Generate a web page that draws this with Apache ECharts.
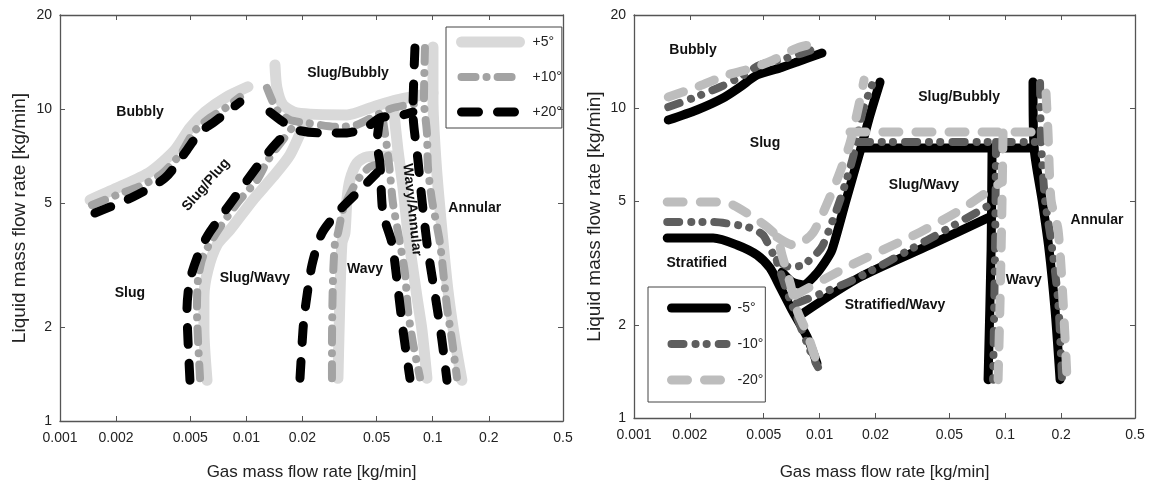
<!DOCTYPE html>
<html><head><meta charset="utf-8">
<script src="https://cdn.jsdelivr.net/npm/echarts@6/dist/echarts.min.js"></script>
<style>html,body{margin:0;padding:0;background:#fff}#c{width:1152px;height:485px}</style>
</head><body><div id="c"></div>
<script>
// ---------- axis ticks & titles ----------
const xTickValues = [0.001, 0.002, 0.005, 0.01, 0.02, 0.05, 0.1, 0.2, 0.5];
const yTickValues = [1, 2, 5, 10, 20];
const xTitle = 'Gas mass flow rate [kg/min]';
const yTitle = 'Liquid mass flow rate [kg/min]';

// ---------- left panel: +5°, +10°, +20° ----------
const p5Bubbly = [[0.00145,5.11],[0.00202,5.58],[0.00304,6.28],[0.00414,7.39],[0.00498,8.69],[0.006,9.78],[0.00768,10.85],[0.0102,11.77]];
const p5SlugBubbly = [[0.01424,13.84],[0.01459,11.68],[0.01572,10.3],[0.01868,9.71],[0.03464,9.57],[0.04778,10.15],[0.06427,10.69],[0.1003,11.25]];
const p5SlugPlug = [[0.00615,1.35],[0.00592,1.96],[0.00592,2.5],[0.00622,3.05],[0.00696,3.67],[0.00817,4.1],[0.01085,5.11],[0.01389,6.06],[0.01713,7.12],[0.02063,9.09]];
const p5Wavy = [[0.031,1.37],[0.03178,2.5],[0.03258,3.72],[0.0338,4.0],[0.03464,5.11],[0.03596,5.92],[0.0392,6.71],[0.04436,7.02],[0.0627,7.07]];
const p5WavyAnnular = [[0.06116,10.45],[0.06507,7.39],[0.06921,5.62],[0.07362,4.0],[0.08228,2.5],[0.08751,1.96],[0.0931,1.37]];
const p5Annular = [[0.1003,15.8],[0.1003,10.69],[0.104,6.86],[0.1107,4.41],[0.1206,2.63],[0.1315,1.82],[0.1434,1.35]];

const p10Bubbly = [[0.001485,4.92],[0.00202,5.3],[0.00279,5.71],[0.00357,6.24],[0.00451,7.28],[0.00517,8.38],[0.00615,9.22],[0.00787,10.15],[0.00924,10.93]];
const p10SlugBubbly = [[0.0129,11.68],[0.01459,9.93],[0.01713,9.22],[0.02115,9.02],[0.03062,8.76],[0.0392,8.89],[0.05019,9.57],[0.06116,10.07],[0.08538,10.45]];
const p10SlugPlug = [[0.00564,1.37],[0.0055,1.82],[0.00543,2.27],[0.0055,2.83],[0.00585,3.36],[0.00696,4.04],[0.00902,5.03],[0.0114,5.92],[0.01306,6.86],[0.01572,7.96],[0.01757,8.69]];
const p10Wavy = [[0.02879,1.37],[0.02879,1.73],[0.02915,2.83],[0.02988,3.72],[0.031,4.0],[0.03298,4.75],[0.03686,5.5],[0.0407,6.06],[0.04604,6.52],[0.05406,6.71]];
const p10WavyAnnular = [[0.05406,9.22],[0.05681,7.55],[0.05895,6.24],[0.06116,5.0],[0.06668,3.72],[0.07094,2.98],[0.07362,2.27],[0.07831,1.78],[0.08538,1.38]];
const p10Annular = [[0.09082,15.69],[0.0897,10.69],[0.0931,8.38],[0.09424,6.52],[0.099,5.11],[0.1093,3.72],[0.1192,2.32],[0.1268,1.82],[0.1348,1.38]];

const p20Bubbly = [[0.00154,4.64],[0.00246,5.22],[0.00366,6.01],[0.0048,7.39],[0.00564,8.44],[0.00662,9.02],[0.00924,10.53]];
const p20SlugBubbly = [[0.01338,9.78],[0.01572,9.09],[0.01868,8.56],[0.02483,8.38],[0.03464,8.38],[0.04436,8.76],[0.05209,9.36],[0.06921,9.57],[0.07831,9.78]];
const p20SlugPlug = [[0.00498,1.35],[0.00486,1.82],[0.0048,2.27],[0.00498,2.83],[0.00564,3.53],[0.00638,4.04],[0.00848,5.11],[0.0114,6.52],[0.01389,7.55],[0.01651,8.44]];
const p20Wavy = [[0.0194,1.37],[0.02013,1.96],[0.02063,2.27],[0.02249,3.16],[0.02544,4.0],[0.03178,4.75],[0.0407,5.5],[0.05019,6.24]];
const p20WavyAnnular = [[0.05209,9.36],[0.05019,7.78],[0.05209,6.71],[0.05406,4.64],[0.0604,3.72],[0.06427,2.83],[0.06921,1.96],[0.07546,1.37]];
const p20Annular = [[0.08026,15.69],[0.07831,9.78],[0.08329,6.86],[0.08751,5.11],[0.09424,3.53],[0.104,2.44],[0.112,1.82],[0.1192,1.35]];

// ---------- right panel: -5°, -10°, -20° ----------
const m5Bubbly = [[0.00153,9.16],[0.00218,9.87],[0.00302,10.79],[0.00373,11.71],[0.0046,12.8],[0.00612,13.49],[0.00755,14.1],[0.0103,15.08]];
const m5Stratified = [[0.00151,3.81],[0.00267,3.81],[0.00359,3.62],[0.0046,3.36],[0.0054,3.05],[0.00612,2.65],[0.00719,2.2],[0.00855,1.83],[0.00968,1.5]];
const m5Slug = [[0.00627,2.96],[0.0071,2.75],[0.00814,2.69],[0.00945,2.89],[0.0107,3.19],[0.01166,3.49],[0.01388,5.05],[0.01672,7.44],[0.01869,9.51],[0.02116,12.15]];
const m5SlugWavyTop = [[0.01672,7.44],[0.143,7.44]];
const m5SlugWavyBottom = [[0.00814,2.18],[0.0165,2.85],[0.03934,3.62],[0.0828,4.46]];
const m5Wavy = [[0.0849,7.44],[0.0839,3.49],[0.0808,1.33]];
const m5Annular = [[0.1411,12.15],[0.143,7.44],[0.158,5.05],[0.1722,3.49],[0.1855,2.23],[0.1974,1.33]];

const m10Bubbly = [[0.00153,10.09],[0.00208,10.79],[0.00291,11.71],[0.00373,12.61],[0.00477,13.79],[0.00667,14.52],[0.00968,15.64]];
const m10Stratified = [[0.00151,4.29],[0.00267,4.29],[0.00359,4.2],[0.00422,4.11],[0.00495,3.9],[0.0054,3.54],[0.00589,3.19],[0.00635,2.79],[0.00693,2.40],[0.00755,2.12],[0.00814,1.88],[0.00921,1.57],[0.0098,1.46]];
const m10Slug = [[0.00589,3.24],[0.00693,3.07],[0.00814,3.12],[0.00968,3.41],[0.01043,3.62],[0.01288,5.05],[0.01514,6.96],[0.01714,9.87],[0.01916,11.88]];
const m10SlugWavyTop = [[0.0161,7.78],[0.156,7.78]];
const m10SlugWavyBottom = [[0.00755,2.35],[0.01514,2.79],[0.03792,3.75],[0.0881,4.98]];
const m10Wavy = [[0.0892,7.78],[0.0881,3.49],[0.086,1.33]];
const m10Annular = [[0.154,12.06],[0.156,7.78],[0.1638,5.05],[0.1765,3.75],[0.1925,2.40],[0.2023,1.33]];

const m20Bubbly = [[0.00153,10.87],[0.00218,11.71],[0.00317,12.8],[0.00438,13.49],[0.00561,14.31],[0.00755,15.64],[0.00968,16.23]];
const m20Stratified = [[0.00151,4.98],[0.00291,4.98],[0.00342,4.87],[0.00422,4.52],[0.00521,4.14],[0.00589,3.84],[0.00627,3.36],[0.00693,2.73],[0.00755,2.23],[0.00855,1.88],[0.01005,1.40]];
const m20Slug = [[0.00589,3.84],[0.00719,3.62],[0.00834,3.75],[0.00921,3.96],[0.01043,4.59],[0.0124,5.87],[0.01458,7.72],[0.0165,10.63],[0.01735,12.33]];
const m20SlugWavyTop = [[0.01458,8.38],[0.1659,8.38]];
const m20SlugWavyBottom = [[0.00737,2.49],[0.01405,3.07],[0.03475,3.98],[0.0571,4.69],[0.0938,5.74]];
const m20Wavy = [[0.0973,8.32],[0.0961,5.05],[0.0938,2.40],[0.0915,1.33]];
const m20Annular = [[0.1659,11.19],[0.170,8.32],[0.1765,5.05],[0.1925,4.05],[0.2048,2.40],[0.2153,1.33]];

// ---------- region labels [text, x, y, rotation deg] ----------
const leftLabels = [
  ['Bubbly', 0.00269, 9.78, 0], ['Slug/Plug', 0.00607, 5.71, 49], ['Slug/Bubbly', 0.0351, 13.04, 0],
  ['Wavy/Annular', 0.0774, 4.75, -84], ['Annular', 0.168, 4.82, 0], ['Wavy', 0.0433, 3.07, 0],
  ['Slug/Wavy', 0.0111, 2.87, 0], ['Slug', 0.00237, 2.57, 0]
];
const rightLabels = [
  ['Bubbly', 0.00208, 15.41, 0], ['Slug', 0.00508, 7.72, 0], ['Slug/Bubbly', 0.0564, 10.87, 0],
  ['Slug/Wavy', 0.0365, 5.65, 0], ['Annular', 0.312, 4.36, 0], ['Wavy', 0.126, 2.79, 0],
  ['Stratified/Wavy', 0.0255, 2.32, 0], ['Stratified', 0.00218, 3.16, 0]
];

// ---------- groups ----------
const leftGroups = [
  { name: '+5°', curves: [p5Bubbly, p5SlugBubbly, p5SlugPlug, p5Wavy, p5WavyAnnular, p5Annular] },
  { name: '+10°', curves: [p10Bubbly, p10SlugBubbly, p10SlugPlug, p10Wavy, p10WavyAnnular, p10Annular] },
  { name: '+20°', curves: [p20Bubbly, p20SlugBubbly, p20SlugPlug, p20Wavy, p20WavyAnnular, p20Annular] }
];
const rightGroups = [
  { name: '-5°', curves: [m5Bubbly, m5Stratified, m5Slug, m5SlugWavyTop, m5SlugWavyBottom, m5Wavy, m5Annular] },
  { name: '-10°', curves: [m10Bubbly, m10Stratified, m10Slug, m10SlugWavyTop, m10SlugWavyBottom, m10Wavy, m10Annular] },
  { name: '-20°', curves: [m20Bubbly, m20Stratified, m20Slug, m20SlugWavyTop, m20SlugWavyBottom, m20Wavy, m20Annular] }
];

const styles = {
  '+5°':  { color: '#d9d9d9', width: 11, type: 'solid' },
  '+10°': { color: '#a3a3a3', width: 8, type: [14, 11, 0.1, 11] },
  '+20°': { color: '#000000', width: 9, type: [17, 19] },
  '-5°':  { color: '#000000', width: 9, type: 'solid' },
  '-10°': { color: '#5e5e5e', width: 8, type: [12, 12, 0.1, 11, 0.1, 12] },
  '-20°': { color: '#bdbdbd', width: 9, type: [16, 17] }
};

const FONT = '"Liberation Sans", Arial, Helvetica, sans-serif';
const L = v => Math.log10(v);
const toLog = arr => arr.map(p => [L(p[0]), L(p[1])]);
const fmt = v => String(Number(Math.pow(10, v).toPrecision(2)));
const axisColor = '#555';

function xAxes(grid, nameGap) {
  const ticks = xTickValues.map(L);
  const base = { gridIndex: grid, type: 'value', min: L(xTickValues[0]), max: L(xTickValues[xTickValues.length - 1]),
    splitLine: { show: false }, axisLine: { show: true, onZero: false, lineStyle: { color: axisColor, width: 1.3 } },
    axisTick: { show: true, inside: true, length: 5, customValues: ticks, lineStyle: { color: axisColor } } };
  return [
    Object.assign({}, base, { position: 'bottom',
      axisLabel: { customValues: ticks, formatter: fmt, margin: 10, color: '#222', fontSize: 14, fontFamily: FONT, hideOverlap: false },
      name: xTitle, nameLocation: 'middle', nameGap: nameGap, nameTextStyle: { fontSize: 17, color: '#222', fontFamily: FONT } }),
    Object.assign({}, base, { position: 'top', axisLabel: { show: false } })
  ];
}
function yAxes(grid, nameGap) {
  const ticks = yTickValues.map(L);
  const base = { gridIndex: grid, type: 'value', min: L(yTickValues[0]), max: L(yTickValues[yTickValues.length - 1]),
    splitLine: { show: false }, axisLine: { show: true, onZero: false, lineStyle: { color: axisColor, width: 1.3 } },
    axisTick: { show: true, inside: true, length: 5, customValues: ticks, lineStyle: { color: axisColor } } };
  return [
    Object.assign({}, base, { position: 'left',
      axisLabel: { customValues: ticks, formatter: fmt, margin: 8, color: '#222', fontSize: 14, fontFamily: FONT, hideOverlap: false },
      name: yTitle, nameLocation: 'middle', nameGap: nameGap, nameTextStyle: { fontSize: 19, color: '#222', fontFamily: FONT } }),
    Object.assign({}, base, { position: 'right', axisLabel: { show: false } })
  ];
}

const series = [];
function addGroups(groups, axisIdx) {
  groups.forEach(g => {
    const s = styles[g.name];
    g.curves.forEach(c => {
      series.push({ type: 'line', name: g.name, xAxisIndex: axisIdx, yAxisIndex: axisIdx,
        data: toLog(c), symbol: 'none', smooth: 0.25, silent: true, animation: false,
        lineStyle: { color: s.color, width: s.width, type: s.type, cap: 'round', join: 'round' },
        itemStyle: { color: s.color }, emphasis: { disabled: true } });
    });
  });
}
addGroups(leftGroups, 0);
addGroups(rightGroups, 2);

function legendData(groups) {
  return groups.map(g => {
    const s = styles[g.name];
    return { name: g.name, itemStyle: { opacity: 0, borderWidth: 0 },
      lineStyle: { color: s.color, width: s.width, type: s.type, cap: 'round', opacity: 1 } };
  });
}
const legendCommon = { orient: 'vertical', itemHeight: 14, selectedMode: false, borderColor: '#444', borderWidth: 1 };

const option = {
  animation: false,
  backgroundColor: '#fff',
  textStyle: { fontFamily: FONT },
  grid: [
    { left: 60, top: 15, width: 503, height: 406, outerBoundsMode: 'none', containLabel: false },
    { left: 634, top: 15, width: 501, height: 403, outerBoundsMode: 'none', containLabel: false }
  ],
  xAxis: xAxes(0, 43).concat(xAxes(1, 46)),
  yAxis: yAxes(0, 31).concat(yAxes(1, 30)),
  legend: [
    Object.assign({}, legendCommon, { left: 446, top: 27, itemWidth: 58, itemGap: 21, padding: [8, 0, 9, 10],
      textStyle: { fontSize: 14, color: '#222', fontFamily: FONT, padding: [0, 0, 0, 8] }, data: legendData(leftGroups) }),
    Object.assign({}, legendCommon, { left: 648, top: 287, itemWidth: 55, itemGap: 22, padding: [14, 2, 15, 19],
      textStyle: { fontSize: 14, color: '#222', fontFamily: FONT, padding: [0, 0, 0, 6] }, data: legendData(rightGroups) })
  ],
  series: series
};

const chart = echarts.init(document.getElementById('c'), null, { renderer: 'canvas' });
chart.setOption(option);

const graphics = [];
function addLabels(labels, grid) {
  labels.forEach(([t, x, y, rot]) => {
    const p = chart.convertToPixel({ gridIndex: grid }, [L(x), L(y)]);
    graphics.push({ type: 'text', x: p[0], y: p[1], rotation: rot * Math.PI / 180, silent: true, z: 100,
      style: { text: t, align: 'center', verticalAlign: 'middle', fill: '#111', font: 'bold 14px ' + FONT } });
  });
}
addLabels(leftLabels, 0);
addLabels(rightLabels, 1);
chart.setOption({ graphic: graphics });
</script>
</body></html>
